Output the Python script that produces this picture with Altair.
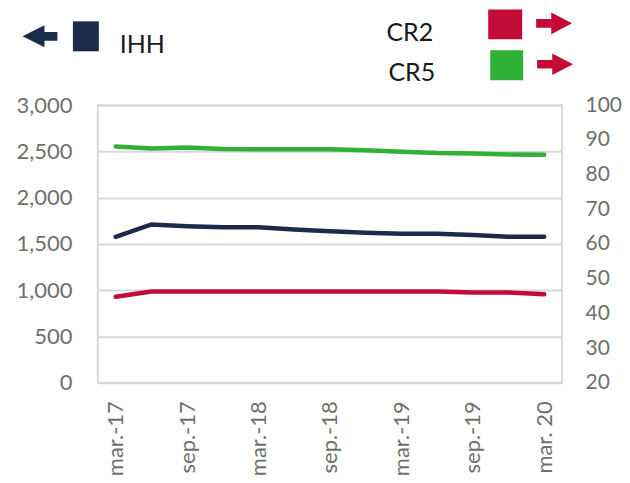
import altair as alt
import pandas as pd

quarters = ["mar.-17", "jun.-17", "sep.-17", "dic.-17", "mar.-18", "jun.-18", "sep.-18",
            "dic.-18", "mar.-19", "jun.-19", "sep.-19", "dic.-19", "mar. 20"]
tick_labels = ["mar.-17", "sep.-17", "mar.-18", "sep.-18", "mar.-19", "sep.-19", "mar. 20"]
ihh = [1578, 1711, 1693, 1682, 1682, 1657, 1639, 1621, 1610, 1610, 1596, 1578, 1578]
cr2 = [44.8, 46.3, 46.3, 46.3, 46.3, 46.3, 46.3, 46.3, 46.3, 46.3, 46.0, 46.0, 45.5]
cr5 = [88.1, 87.5, 87.8, 87.4, 87.3, 87.3, 87.3, 87.0, 86.6, 86.2, 86.1, 85.8, 85.7]
left_ticks = [0, 500, 1000, 1500, 2000, 2500, 3000]
right_ticks = [20, 30, 40, 50, 60, 70, 80, 90, 100]

NAVY = "#1b2b4b"
RED = "#c20b36"
GREEN = "#2fb037"
LABEL = "#6f6f6f"
FONT = "Lato"

df_l = pd.DataFrame({"q": quarters, "v": ihh, "s": "IHH"})
df_r = pd.concat([
    pd.DataFrame({"q": quarters, "v": cr2, "s": "CR2"}),
    pd.DataFrame({"q": quarters, "v": cr5, "s": "CR5"}),
])

x_enc = alt.X("q:N", sort=quarters,
              scale=alt.Scale(type="point", padding=0.5),
              axis=alt.Axis(values=tick_labels, labelAngle=-90, title=None, ticks=False,
                            domain=False, grid=False, labelFontSize=22, labelColor=LABEL,
                            labelFont=FONT, labelPadding=18))

left = alt.Chart(df_l).mark_line(strokeWidth=4.5, strokeCap="round", color=NAVY).encode(
    x=x_enc,
    y=alt.Y("v:Q", scale=alt.Scale(domain=[0, 3000], nice=False),
            axis=alt.Axis(values=left_ticks, format=",.0f", title=None, ticks=False, domain=False,
                          grid=True, gridColor="#d9d9d9", gridWidth=2,
                          labelFontSize=22, labelColor=LABEL, labelFont=FONT, labelPadding=26)),
)

right = alt.Chart(df_r).mark_line(strokeWidth=4.5, strokeCap="round").encode(
    x=x_enc,
    y=alt.Y("v:Q", scale=alt.Scale(domain=[20, 100], nice=False),
            axis=alt.Axis(orient="right", values=right_ticks, title=None, ticks=False,
                          domain=False, grid=False, labelFontSize=21, labelColor=LABEL,
                          labelFont=FONT, labelPadding=23)),
    color=alt.Color("s:N", scale=alt.Scale(domain=["CR2", "CR5"], range=[RED, GREEN]),
                    legend=None),
)

one = alt.Data(values=[{"k": 1}])
LEFT_ARROW = "M -1 0 L 0.26 -0.63 L 0.26 -0.25 L 1 -0.25 L 1 0.25 L 0.26 0.25 L 0.26 0.63 Z"
RIGHT_ARROW = "M 1 0 L -0.16 -0.6 L -0.16 -0.24 L -1 -0.24 L -1 0.24 L -0.16 0.24 L -0.16 0.6 Z"


def arrow(path, cx, cy, color, w):
    return alt.Chart(one).mark_point(shape=path, filled=True, size=w * w, color=color,
                                     opacity=1, strokeWidth=0).encode(
        x=alt.value(cx), y=alt.value(cy))


def box(x1, x2, y1, y2, color):
    return alt.Chart(one).mark_rect(color=color).encode(
        x=alt.value(x1), x2=alt.value(x2), y=alt.value(y1), y2=alt.value(y2))


def label(txt, x, y):
    return alt.Chart(one).mark_text(text=txt, align="left", baseline="middle", fontSize=25,
                                    font=FONT, color="#1a1a1a").encode(
        x=alt.value(x), y=alt.value(y))


legend = [
    arrow(LEFT_ARROW, -58, -69, NAVY, 35),
    box(-25, 1, -84, -54, NAVY),
    label("IHH", 22, -60),
    label("CR2", 289, -72),
    label("CR5", 291, -32),
    box(391, 425, -96, -66, RED),
    box(393, 426, -55, -25, GREEN),
    arrow(RIGHT_ARROW, 457, -82, RED, 36),
    arrow(RIGHT_ARROW, 458, -41, RED, 36),
]

chart = alt.layer(left, right, *legend).resolve_scale(y="independent").properties(
    width=465, height=278,
    autosize=alt.AutoSizeParams(type="none"),
    padding={"left": 90, "top": 97, "right": 60, "bottom": 92},
).configure_view(stroke="#d9d9d9", strokeWidth=2)

chart.save("out.html", embed_options={"renderer": "svg", "actions": False})
